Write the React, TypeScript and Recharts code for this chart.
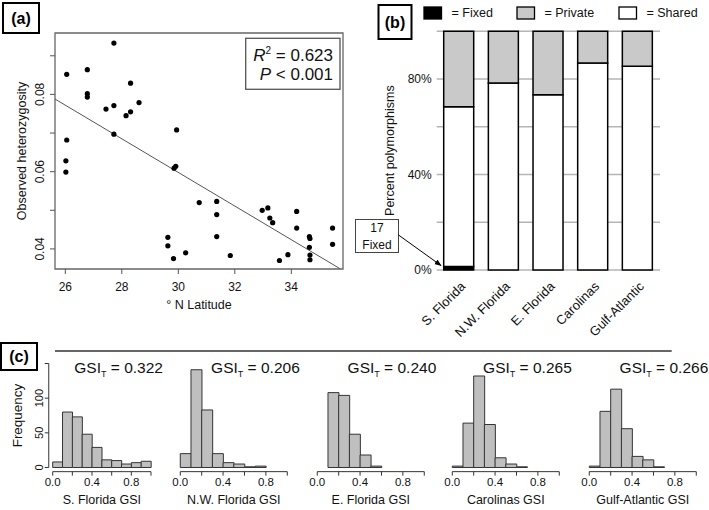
import React from 'react';
import {
  ScatterChart, Scatter, XAxis, YAxis, ReferenceLine, ReferenceArea,
  BarChart, Bar, CartesianGrid,
} from 'recharts';

const FONT = '"Liberation Sans", Arial, Helvetica, sans-serif';
const INK = '#111';

// ---------------- (a) heterozygosity vs latitude ----------------
const latitude = [
  26.05, 26.05, 26.02, 26.02, 26.78, 26.78, 26.78, 27.72, 27.44, 27.72, 27.72,
  28.31, 28.15, 28.31, 28.61, 29.94, 29.91, 29.85, 29.63, 29.63, 29.83, 30.26,
  30.74, 31.36, 31.36, 31.36, 31.84, 32.97, 33.17, 33.24, 33.34, 33.58, 33.88,
  34.19, 34.19, 34.64, 34.66, 34.64, 34.66, 34.66, 35.46, 35.46,
];
const heterozygosity = [
  0.0852, 0.0682, 0.0628, 0.0599, 0.0864, 0.0802, 0.0793, 0.0933, 0.0762, 0.0771, 0.0697,
  0.0829, 0.0745, 0.0755, 0.0779, 0.0708, 0.0614, 0.0609, 0.0430, 0.0408, 0.0375, 0.0390,
  0.0520, 0.0523, 0.0489, 0.0432, 0.0383, 0.0500, 0.0506, 0.0480, 0.0468, 0.0370, 0.0385,
  0.0497, 0.0454, 0.0432, 0.0427, 0.0404, 0.0384, 0.0372, 0.0454, 0.0412,
];
const latTicks = [26, 28, 30, 32, 34];
const hetTicks = [0.04, 0.05, 0.06, 0.07, 0.08, 0.09];
const hetTickLabels = [0.04, 0.06, 0.08];
const latDomain: [number, number] = [25.635, 35.83];
const hetDomain: [number, number] = [0.0348, 0.0959];
const fitStart = { x: 25.635, y: 0.0788 };
const fitEnd = { x: 35.72, y: 0.0349 };
const rSquared = '0.623';
const pValue = '0.001';
const scatterData = latitude.map((x, i) => ({ x, y: heterozygosity[i] }));

// ---------------- (b) percent polymorphisms ----------------
const regions = ['S. Florida', 'N.W. Florida', 'E. Florida', 'Carolinas', 'Gulf-Atlantic'];
const fixedPct = [1.5, 0, 0, 0, 0];
const sharedPct = [66.9, 78.3, 73.4, 86.7, 85.3];
const privatePct = [31.6, 21.7, 26.6, 13.3, 14.7];
const pctTicks = [0, 20, 40, 60, 80, 100];
const pctTickLabels = [0, 40, 80];
const fixedCount = 17;
const polyData = regions.map((region, i) => ({
  region, fixed: fixedPct[i], shared: sharedPct[i], private: privatePct[i],
}));

// ---------------- (c) GSI histograms ----------------
const gsiBinMids = [0.05, 0.15, 0.25, 0.35, 0.45, 0.55, 0.65, 0.75, 0.85, 0.95];
const histTitles = ['S. Florida GSI', 'N.W. Florida GSI', 'E. Florida GSI', 'Carolinas GSI', 'Gulf-Atlantic GSI'];
const sFloridaCounts = [8, 80, 73, 48, 29, 11, 10, 5, 7, 9];
const nwFloridaCounts = [20, 141, 83, 20, 7, 5, 1, 2];
const eFloridaCounts = [0, 108, 104, 48, 18, 2];
const carolinasCounts = [2, 64, 132, 62, 14, 5, 1];
const gulfAtlanticCounts = [2, 81, 113, 56, 16, 11, 1];
const histCounts = [sFloridaCounts, nwFloridaCounts, eFloridaCounts, carolinasCounts, gulfAtlanticCounts];
const gsiTotals = ['0.322', '0.206', '0.240', '0.265', '0.266'];
const gsiTicks = [0, 0.2, 0.4, 0.6, 0.8, 1.0];
const gsiTickLabels = [0, 0.4, 0.8];
const freqTicks = [0, 50, 100, 150];
const freqTickLabels = [0, 50, 100];

// ---------------- layout ----------------
const HIST_TOP = 340;
const HIST_H = 170;
const HIST_PLOT_TOP = 359.34;
const HIST_PLOT_BOTTOM = 471.66;
const HIST_ZERO_X = [52.7, 180.5, 317, 452.5, 589];
const HIST_UNIT_PX = [98.3, 107, 107, 107, 107];
const HIST_SIDE_PAD = 14;

// ---------------- ticks ----------------
const LatTick = (p: any) => (
  <text x={p.x} y={p.y + 13} textAnchor="middle" dominantBaseline="central"
    fontSize={12} fontFamily={FONT} fill={INK}>{p.payload.value}</text>
);
const HetTick = (p: any) => {
  const v = p.payload.value;
  if (!hetTickLabels.some((t) => Math.abs(t - v) < 1e-9)) return <g />;
  const cx = p.x - 10;
  return (
    <text x={cx} y={p.y} transform={`rotate(-90 ${cx} ${p.y})`} textAnchor="middle"
      dominantBaseline="central" fontSize={12} fontFamily={FONT} fill={INK}>{v.toFixed(2)}</text>
  );
};
const PctTick = (p: any) => {
  const v = p.payload.value;
  if (!pctTickLabels.includes(v)) return <g />;
  return (
    <text x={p.x} y={p.y} textAnchor="end" dominantBaseline="central"
      fontSize={12} fontFamily={FONT} fill={INK}>{v}%</text>
  );
};
const RegionTick = (p: any) => {
  const ax = p.x + 4;
  const ay = p.y + 14;
  return (
    <text x={ax} y={ay} transform={`rotate(-45 ${ax} ${ay})`} textAnchor="end"
      dominantBaseline="central" fontSize={13} fontFamily={FONT} fill={INK}>{p.payload.value}</text>
  );
};
const GsiTick = (p: any) => {
  const v = p.payload.value;
  if (!gsiTickLabels.some((t) => Math.abs(t - v) < 1e-9)) return <g />;
  return (
    <text x={p.x} y={p.y + 6.5} textAnchor="middle" dominantBaseline="central"
      fontSize={11.5} fontFamily={FONT} fill={INK}>{v.toFixed(1)}</text>
  );
};
const FreqTick = (p: any) => {
  const v = p.payload.value;
  if (!freqTickLabels.includes(v)) return <g />;
  const cx = p.x - 6;
  return (
    <text x={cx} y={p.y} transform={`rotate(-90 ${cx} ${p.y})`} textAnchor="middle"
      dominantBaseline="central" fontSize={11} fontFamily={FONT} fill={INK}>{v}</text>
  );
};

const Dot = (p: any) => <circle cx={p.cx} cy={p.cy} r={2.6} fill="#000" />;

const yTitle = (text: string, dx: number, size: number) => (props: any) => {
  const vb = props.viewBox;
  const cx = vb.x + dx;
  const cy = vb.y + vb.height / 2;
  return (
    <text x={cx} y={cy} transform={`rotate(-90 ${cx} ${cy})`} textAnchor="middle"
      dominantBaseline="central" fontSize={size} fontFamily={FONT} fill={INK}>{text}</text>
  );
};
const xTitle = (text: string, dy: number, size: number) => (props: any) => {
  const vb = props.viewBox;
  return (
    <text x={vb.x + vb.width / 2} y={vb.y + dy} textAnchor="middle"
      dominantBaseline="central" fontSize={size} fontFamily={FONT} fill={INK}>{text}</text>
  );
};

// ---------------- panels ----------------
function PanelA() {
  return (
    <div style={{ position: 'absolute', left: 0, top: 0 }}>
      <ScatterChart width={360} height={320} margin={{ top: 33, right: 17, bottom: 0, left: 0 }}>
        <XAxis type="number" dataKey="x" domain={latDomain} ticks={latTicks} allowDataOverflow
          height={51} tickSize={5} tickMargin={0} axisLine={false}
          tickLine={{ stroke: '#555' }} tick={<LatTick />} interval={0}
          label={{ content: xTitle('° N Latitude', 36, 12.5) }} />
        <YAxis type="number" dataKey="y" domain={hetDomain} ticks={hetTicks} allowDataOverflow
          width={55} tickSize={5} tickMargin={0} axisLine={false}
          tickLine={{ stroke: '#555' }} tick={<HetTick />} interval={0}
          label={{ content: yTitle('Observed heterozygosity', 22, 12.5) }} />
        <ReferenceArea x1={latDomain[0]} x2={latDomain[1]} y1={hetDomain[0]} y2={hetDomain[1]}
          fill="none" stroke="#666" strokeWidth={1.3} ifOverflow="visible" />
        <ReferenceLine segment={[fitStart, fitEnd]} stroke="#555" strokeWidth={1} ifOverflow="visible" />
        <Scatter data={scatterData} fill="#000" shape={Dot} isAnimationActive={false} />
      </ScatterChart>
    </div>
  );
}

function PanelB() {
  return (
    <div style={{ position: 'absolute', left: 360, top: 0 }}>
      <BarChart width={349} height={345} data={polyData}
        margin={{ top: 31.25, right: 49, bottom: 0, left: 0 }} barSize={30}>
        <CartesianGrid vertical={false} stroke="#b5b5b5" strokeWidth={1.5} />
        <XAxis dataKey="region" height={75} tickSize={0} tickMargin={0} axisLine={false}
          tickLine={false} tick={<RegionTick />} interval={0} />
        <YAxis type="number" domain={[0, 100]} ticks={pctTicks} width={76.7} tickSize={0}
          tickMargin={5} axisLine={false} tickLine={false} tick={<PctTick />} interval={0}
          label={{ content: yTitle('Percent polymorphisms', 30, 12.5) }} />
        <Bar dataKey="fixed" stackId="s" fill="#000" stroke="#000" strokeWidth={1.5} isAnimationActive={false} />
        <Bar dataKey="shared" stackId="s" fill="#fff" stroke="#000" strokeWidth={1.5} isAnimationActive={false} />
        <Bar dataKey="private" stackId="s" fill="#c9c9c9" stroke="#000" strokeWidth={1.5} isAnimationActive={false} />
      </BarChart>
    </div>
  );
}

function Histogram({ idx }: { idx: number }) {
  const unit = HIST_UNIT_PX[idx];
  const plotLeft = HIST_ZERO_X[idx] - 0.04 * unit;
  const plotWidth = 1.08 * unit;
  const yAxisW = idx === 0 ? plotLeft : 0;
  const leftPad = idx === 0 ? 0 : HIST_SIDE_PAD;
  const chartLeft = plotLeft - yAxisW - leftPad;
  const width = leftPad + yAxisW + plotWidth + HIST_SIDE_PAD;
  const data = histCounts[idx].map((count, i) => ({ mid: gsiBinMids[i], count }));
  return (
    <div style={{ position: 'absolute', left: chartLeft, top: HIST_TOP }}>
      <BarChart width={width} height={HIST_H} data={data} barCategoryGap={0} barGap={0}
        margin={{ top: HIST_PLOT_TOP - HIST_TOP, right: HIST_SIDE_PAD, bottom: 0, left: leftPad }}>
        <XAxis type="number" dataKey="mid" domain={[-0.04, 1.04]} ticks={gsiTicks} allowDataOverflow
          height={HIST_TOP + HIST_H - HIST_PLOT_BOTTOM} tickSize={4} tickMargin={0} axisLine={false}
          tickLine={{ stroke: '#333' }} tick={<GsiTick />} interval={0}
          label={{ content: xTitle(histTitles[idx], 28.3, 12.5) }} />
        <YAxis type="number" domain={[-6, 156]} ticks={freqTicks} allowDataOverflow hide={idx !== 0}
          width={yAxisW} tickSize={4} tickMargin={0} axisLine={false} tickLine={{ stroke: '#333' }}
          tick={<FreqTick />} interval={0}
          label={{ content: yTitle('Frequency', 18, 13.5) }} />
        <ReferenceLine segment={[{ x: 0, y: -6 }, { x: 1, y: -6 }]} stroke="#333" strokeWidth={1} ifOverflow="visible" />
        {idx === 0 && (
          <ReferenceLine segment={[{ x: -0.04, y: 0 }, { x: -0.04, y: 150 }]} stroke="#333" strokeWidth={1} ifOverflow="visible" />
        )}
        <Bar dataKey="count" fill="#bfbfbf" stroke="#333" strokeWidth={1} isAnimationActive={false} />
      </BarChart>
    </div>
  );
}

function PanelLetter({ x, y, w, h, label }: { x: number; y: number; w: number; h: number; label: string }) {
  return (
    <g>
      <rect x={x} y={y} width={w} height={h} fill="#fff" stroke="#000" strokeWidth={2} />
      <text x={x + w / 2} y={y + h / 2} textAnchor="middle" dominantBaseline="central"
        fontSize={16} fontWeight="bold" fontFamily={FONT} fill="#000">{label}</text>
    </g>
  );
}

function Overlay() {
  const legend = [
    { x: 424, fill: '#000', text: '= Fixed' },
    { x: 517, fill: '#c9c9c9', text: '= Private' },
    { x: 619, fill: '#fff', text: '= Shared' },
  ];
  return (
    <svg width={709} height={510} style={{ position: 'absolute', left: 0, top: 0, pointerEvents: 'none' }}
      fontFamily={FONT}>
      <defs>
        <marker id="ah" viewBox="0 0 10 10" refX="9" refY="5" markerWidth="7" markerHeight="7" orient="auto">
          <path d="M0,1 L10,5 L0,9 z" fill="#000" />
        </marker>
      </defs>
      <PanelLetter x={3} y={3} w={36} h={30} label="(a)" />
      <PanelLetter x={378.5} y={5} w={33} h={34} label="(b)" />
      <PanelLetter x={1} y={343} w={36} h={27} label="(c)" />

      {/* R^2 box */}
      <rect x={245.7} y={38.3} width={94.3} height={51} fill="#fff" stroke="#555" strokeWidth={1.3} />
      <text x={333} y={61} textAnchor="end" fontSize={17} fill={INK}>
        <tspan fontStyle="italic">R</tspan>
        <tspan fontSize={10} dy={-7}>2</tspan>
        <tspan dy={7}>{` = ${rSquared}`}</tspan>
      </text>
      <text x={333} y={80} textAnchor="end" fontSize={17} fill={INK}>
        <tspan fontStyle="italic">P</tspan>
        <tspan>{` < ${pValue}`}</tspan>
      </text>

      {/* legend of (b) */}
      {legend.map((l) => (
        <g key={l.text}>
          <rect x={l.x} y={7} width={17.5} height={12} fill={l.fill} stroke="#000" strokeWidth={1.3} />
          <text x={l.x + 27.5} y={13} dominantBaseline="central" fontSize={12.5} fill={INK}>{l.text}</text>
        </g>
      ))}

      {/* 17 Fixed callout */}
      <rect x={355.5} y={219.5} width={43} height={33} fill="#fff" stroke="#444" strokeWidth={1} />
      <text x={377} y={228} textAnchor="middle" dominantBaseline="central" fontSize={12} fill={INK}>{fixedCount}</text>
      <text x={377} y={245} textAnchor="middle" dominantBaseline="central" fontSize={12} fill={INK}>Fixed</text>
      <line x1={398.5} y1={235} x2={441} y2={265.5} stroke="#000" strokeWidth={1} markerEnd="url(#ah)" />

      {/* (c) header rule */}
      <line x1={55} y1={351} x2={671.7} y2={351} stroke="#333" strokeWidth={1.5} />

      {/* GSI_T labels */}
      {gsiTotals.map((g, i) => {
        const right = HIST_ZERO_X[i] + 1.04 * HIST_UNIT_PX[i] + 8;
        return (
          <text key={i} x={right} y={372.5} textAnchor="end" fontSize={15.5} fill={INK}>
            GSI<tspan fontSize={9} dy={4}>T</tspan><tspan dy={-4}>{` = ${g}`}</tspan>
          </text>
        );
      })}
    </svg>
  );
}

export default function App() {
  return (
    <div style={{ position: 'absolute', left: 0, top: 0, width: 709, height: 510, background: '#fff', fontFamily: FONT }}>
      <PanelA />
      <PanelB />
      {histCounts.map((_, i) => <Histogram key={i} idx={i} />)}
      <Overlay />
    </div>
  );
}
